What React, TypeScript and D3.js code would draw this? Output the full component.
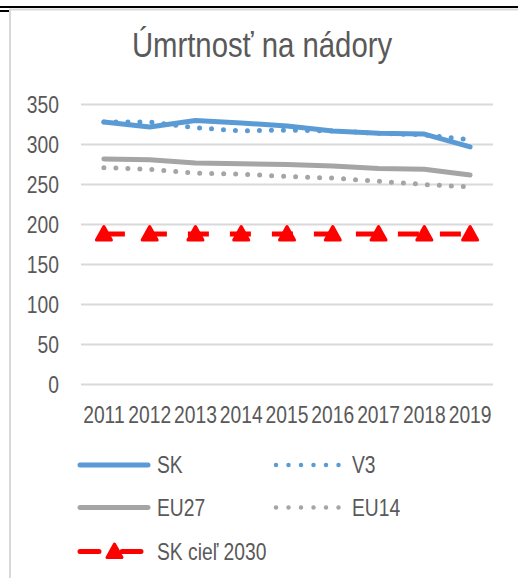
import React, { useEffect, useRef } from 'react';
import * as d3 from 'd3';

const years = ['2011', '2012', '2013', '2014', '2015', '2016', '2017', '2018', '2019'];
const sk = [328, 322, 330, 327, 323, 317, 314, 313, 297];
const v3 = [328, 328, 321, 317, 318, 317, 314, 312, 306];
const eu27 = [282, 281, 277, 276, 275, 273, 270, 269, 262];
const eu14 = [271, 269, 264, 263, 260, 258, 254, 250, 247];
const skTarget = [188, 188, 188, 188, 188, 188, 188, 188, 188];
const yTicks = [0, 50, 100, 150, 200, 250, 300, 350];

const W = 518;
const H = 578;
// no Arial Narrow here, so squeeze Liberation Sans horizontally
const FONT = '"Liberation Sans", Arial, sans-serif';
const NARROW = 0.82;
const TEXT = '#595959';
const BLUE = '#5b9bd5';
const GRAY = '#a5a5a5';
const RED = '#ff0000';

export default function App() {
  const ref = useRef<SVGSVGElement>(null);

  useEffect(() => {
    const svg = d3.select(ref.current);
    svg.selectAll('*').remove();

    const x = d3.scalePoint<string>().domain(years).range([81, 493]).padding(0.5);
    const y = d3.scaleLinear().domain([0, 350]).range([384.5, 104.5]);

    const label = (g: any, tx: number, ty: number, s: string | number, anchor: string, size = 23.5, sx = NARROW) =>
      g.append('text')
        .attr('transform', `translate(${tx},${ty}) scale(${sx},1)`)
        .attr('text-anchor', anchor)
        .attr('font-family', FONT).attr('font-size', size)
        .attr('fill', TEXT)
        .text(s);

    // frame
    svg.append('rect')
      .attr('x', 10).attr('y', 9.5).attr('width', 540).attr('height', 600)
      .attr('fill', '#fff').attr('stroke', '#d9d9d9').attr('stroke-width', 2);
    svg.append('line')
      .attr('x1', 0).attr('x2', W).attr('y1', 7).attr('y2', 7)
      .attr('stroke', '#000').attr('stroke-width', 2);
    svg.append('line')
      .attr('x1', 0).attr('x2', 9).attr('y1', 11).attr('y2', 11)
      .attr('stroke', '#000').attr('stroke-width', 2);

    // title
    label(svg, 262, 57, 'Úmrtnosť na nádory', 'middle', 34.5, 0.85);

    // grid + y labels
    const grid = svg.append('g');
    yTicks.forEach(t => {
      grid.append('line')
        .attr('x1', 81).attr('x2', 493).attr('y1', y(t)).attr('y2', y(t))
        .attr('stroke', '#d9d9d9').attr('stroke-width', 2);
      label(grid, 59, y(t) + 8.4, t, 'end');
    });

    // x labels
    const xg = svg.append('g');
    years.forEach(d => label(xg, x(d) as number, 423, d, 'middle'));

    const line = d3.line<number>()
      .x((_, i) => x(years[i]) as number)
      .y(d => y(d));

    const series = [
      { data: eu14, color: GRAY, dash: '0,12' },
      { data: eu27, color: GRAY, dash: null },
      { data: v3, color: BLUE, dash: '0,12' },
      { data: sk, color: BLUE, dash: null },
    ];
    series.forEach(s => {
      svg.append('path')
        .attr('d', line(s.data))
        .attr('fill', 'none')
        .attr('stroke', s.color)
        .attr('stroke-width', 5)
        .attr('stroke-linecap', 'round')
        .attr('stroke-linejoin', 'round')
        .attr('stroke-dasharray', s.dash);
    });

    // SK target
    svg.append('path')
      .attr('d', line(skTarget))
      .attr('fill', 'none')
      .attr('stroke', RED)
      .attr('stroke-width', 5)
      .attr('stroke-dasharray', '21,21');

    const tri = 'M0,-7.5L7.5,6L-7.5,6Z';
    svg.append('g').selectAll('path')
      .data(skTarget).enter().append('path')
      .attr('d', tri)
      .attr('transform', (d, i) => `translate(${x(years[i])},${y(d)})`)
      .attr('fill', RED).attr('stroke', RED)
      .attr('stroke-width', 3).attr('stroke-linejoin', 'round');

    // legend
    const leg = svg.append('g');
    const legLine = (x1: number, x2: number, ly: number, color: string, dash: string | null, w: number) => {
      leg.append('line')
        .attr('x1', x1).attr('x2', x2).attr('y1', ly).attr('y2', ly)
        .attr('stroke', color).attr('stroke-width', w)
        .attr('stroke-linecap', 'round')
        .attr('stroke-dasharray', dash);
    };
    legLine(80, 148, 465, BLUE, null, 5);
    label(leg, 157, 465 + 8.4, 'SK', 'start');
    legLine(276, 339, 465, BLUE, '0,12.5', 4.5);
    label(leg, 352, 465 + 8.4, 'V3', 'start');
    legLine(80, 148, 507.5, GRAY, null, 5);
    label(leg, 157, 507.5 + 8.4, 'EU27', 'start');
    legLine(276, 339, 507.5, GRAY, '0,12.5', 4.5);
    label(leg, 352, 507.5 + 8.4, 'EU14', 'start');
    leg.append('line')
      .attr('x1', 80).attr('x2', 142).attr('y1', 551.5).attr('y2', 551.5)
      .attr('stroke', RED).attr('stroke-width', 5)
      .attr('stroke-linecap', 'round')
      .attr('stroke-dasharray', '19,23');
    leg.append('path')
      .attr('d', tri)
      .attr('transform', 'translate(114.5,551.5)')
      .attr('fill', RED).attr('stroke', RED)
      .attr('stroke-width', 3).attr('stroke-linejoin', 'round');
    label(leg, 157, 551.5 + 8.4, 'SK cieľ 2030', 'start');
  }, []);

  return (
    <div>
      <svg ref={ref} width={W} height={H}
        style={{ position: 'absolute', left: 0, top: 0, display: 'block', background: '#fff' }} />
    </div>
  );
}
